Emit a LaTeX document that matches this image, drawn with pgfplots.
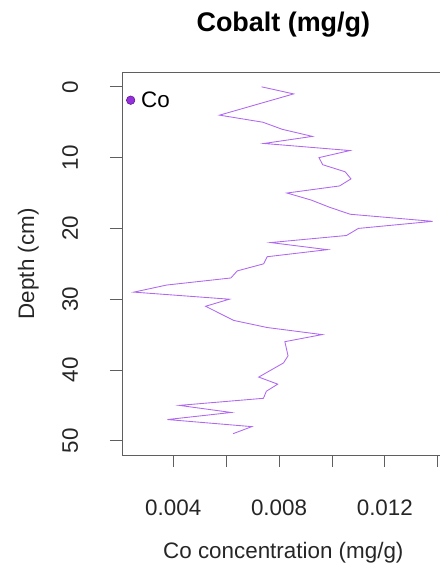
\documentclass[border=0pt]{standalone}
\usepackage{fontspec}
\setmainfont{Liberation Sans}
\usepackage{pgfplots}
\pgfplotsset{compat=1.18}

\definecolor{coline}{RGB}{176,104,240}
\definecolor{cofill}{RGB}{150,48,220}
\definecolor{coedge}{RGB}{90,20,140}
\definecolor{axisgray}{RGB}{95,95,95}

\newcommand{\lbl}{\fontsize{16.8}{20}\selectfont}

\begin{document}
\begin{tikzpicture}
\begin{axis}[
  at={(91.5pt,-54.5pt)}, anchor=north west,
  scale only axis,
  width=242pt, height=286.7pt,
  xmin=0.002061, xmax=0.014263,
  ymin=-2, ymax=52,
  y dir=reverse,
  axis line style={axisgray, line width=0.6pt},
  every tick/.style={axisgray, line width=0.6pt},
  tick align=outside,
  major tick length=9pt,
  xtick pos=bottom, ytick pos=left,
  scaled x ticks=false,
  xtick={0.004,0.006,0.008,0.010,0.012,0.014},
  xticklabels={0.004,,0.008,,0.012,},
  ytick={0,10,20,30,40,50},
  yticklabels={0,10,20,30,40,50},
  tick label style={font=\lbl, text=black!85},
  xticklabel style={anchor=base},
  xticklabel shift=36.2pt,
  yticklabel style={rotate=90, anchor=base},
  yticklabel shift=24pt,
  title={Cobalt (mg/g)},
  title style={at={(axis description cs:0.5,1.087)}, anchor=base,
    font=\fontsize{20.2}{24}\selectfont\bfseries},
  xlabel={Co concentration (mg/g)},
  xlabel style={at={(axis description cs:0.5,-0.2713)}, anchor=base, font=\lbl, text=black!85},
  ylabel={Depth (cm)},
  ylabel style={at={(axis description cs:-0.2727,0.5)}, anchor=base, rotate=0, font=\lbl, text=black!85},
  legend style={at={(axis description cs:0.012,0.928)}, anchor=west,
    draw=none, fill=none, inner sep=0pt, font=\lbl,
    nodes={inner sep=1pt},
    /tikz/every odd column/.append style={column sep=3.5pt}},
  legend cell align=left,
]
\addplot[coline, line width=0.65pt, forget plot] table {
conc depth
0.00734 0
0.00855 1
0.00575 4
0.00739 5
0.00812 6
0.00926 7
0.00743 8
0.01068 9
0.00951 10
0.00965 11
0.01050 12
0.01072 13
0.01029 14
0.00830 15
0.00922 16
0.00990 17
0.01069 18
0.01381 19
0.01100 20
0.01055 21
0.00768 22
0.00983 23
0.00755 24
0.00742 25
0.00642 26
0.00618 27
0.00375 28
0.00251 29
0.00612 30
0.00522 31
0.00629 33
0.00755 34
0.00963 35
0.00822 36
0.00834 38
0.00817 39
0.00723 41
0.00795 42
0.00752 43
0.00741 44
0.00423 45
0.00619 46
0.00378 47
0.00697 48
0.00626 49
};
\addlegendimage{legend image code/.code={\draw[fill=cofill, draw=coedge, line width=0.4pt] (0pt,0pt) circle (3.2pt);}}
\addlegendentry{Co}
\end{axis}
\pgfresetboundingbox
\useasboundingbox (0,0) rectangle (329.25pt,-428.25pt);
\end{tikzpicture}
\end{document}
